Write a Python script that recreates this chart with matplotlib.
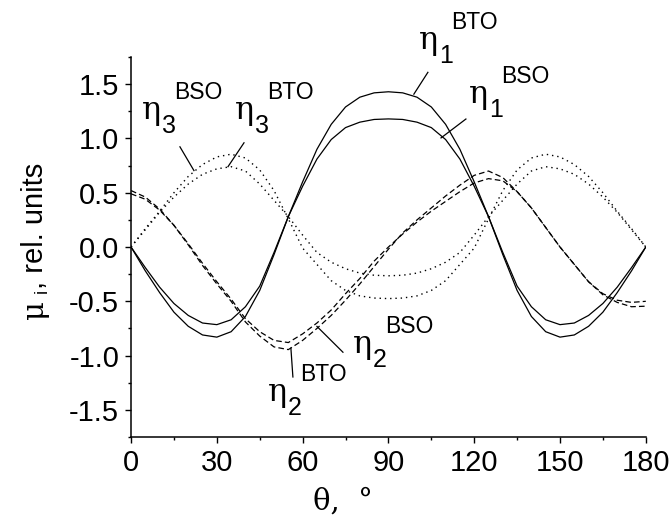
import numpy as np
import matplotlib
matplotlib.use('Agg')
import matplotlib.pyplot as plt
from matplotlib.ticker import MultipleLocator, FormatStrFormatter
from matplotlib.transforms import offset_copy

plt.rcParams['font.family'] = ['Liberation Sans', 'DejaVu Sans']
plt.rcParams['axes.unicode_minus'] = False

# angle grid, degrees
theta = np.arange(0, 181, 5)

# eta_1 (solid)
eta1_bto = [0.00, -0.22, -0.42, -0.60, -0.73, -0.81, -0.83, -0.78, -0.64, -0.40,
            -0.07, 0.28, 0.60, 0.90, 1.13, 1.29, 1.38, 1.42, 1.43, 1.42,
            1.38, 1.29, 1.13, 0.90, 0.60, 0.28, -0.07, -0.40, -0.64, -0.78,
            -0.83, -0.81, -0.73, -0.60, -0.42, -0.22, 0.00]
eta1_bso = [0.00, -0.19, -0.37, -0.52, -0.63, -0.70, -0.715, -0.67, -0.55, -0.36,
            -0.05, 0.28, 0.56, 0.81, 0.99, 1.10, 1.15, 1.175, 1.18, 1.175,
            1.15, 1.10, 0.99, 0.81, 0.56, 0.28, -0.05, -0.36, -0.55, -0.67,
            -0.715, -0.70, -0.63, -0.52, -0.37, -0.19, 0.00]

# eta_2 (dashed)
eta2_bto = [0.52, 0.46, 0.35, 0.20, 0.02, -0.17, -0.34, -0.50, -0.69, -0.82,
            -0.92, -0.945, -0.86, -0.75, -0.63, -0.49, -0.34, -0.18, -0.02, 0.13,
            0.25, 0.36, 0.47, 0.57, 0.66, 0.70, 0.64, 0.51, 0.36, 0.18,
            0.00, -0.16, -0.32, -0.44, -0.51, -0.55, -0.545]
eta2_bso = [0.49, 0.44, 0.34, 0.20, 0.03, -0.15, -0.32, -0.48, -0.66, -0.78,
            -0.86, -0.88, -0.80, -0.70, -0.58, -0.43, -0.29, -0.13, 0.00, 0.12,
            0.23, 0.33, 0.42, 0.51, 0.59, 0.63, 0.61, 0.51, 0.36, 0.18,
            0.00, -0.16, -0.32, -0.43, -0.49, -0.51, -0.50]

# eta_3 (dotted)
eta3_bto = [0.00, 0.16, 0.32, 0.46, 0.58, 0.67, 0.72, 0.74, 0.70, 0.58,
            0.43, 0.28, 0.11, -0.05, -0.14, -0.20, -0.24, -0.26, -0.265, -0.26,
            -0.24, -0.20, -0.14, -0.05, 0.11, 0.28, 0.43, 0.58, 0.70, 0.74,
            0.72, 0.67, 0.58, 0.46, 0.32, 0.16, 0.00]
eta3_bso = [0.00, 0.17, 0.33, 0.50, 0.65, 0.76, 0.83, 0.855, 0.82, 0.71,
            0.52, 0.26, -0.01, -0.16, -0.31, -0.40, -0.45, -0.47, -0.475, -0.47,
            -0.45, -0.40, -0.31, -0.16, -0.01, 0.26, 0.52, 0.71, 0.82, 0.855,
            0.83, 0.76, 0.65, 0.50, 0.33, 0.17, 0.00]

fig = plt.figure(figsize=(6.72, 5.17), dpi=100)
ax = fig.add_axes([0.195, 0.1547, 0.766, 0.735])

solid = dict(color='black', lw=0.9, ls='-')
dashed = dict(color='black', lw=0.9, ls=(0, (4.5, 2.5)))
dotted = dict(color='black', lw=1.0, ls=(0, (1, 2.8)))

ax.plot(theta, eta1_bto, **solid)
ax.plot(theta, eta1_bso, **solid)
ax.plot(theta, eta2_bto, **dashed)
ax.plot(theta, eta2_bso, **dashed)
ax.plot(theta, eta3_bto, **dotted)
ax.plot(theta, eta3_bso, **dotted)

ax.set_xlim(0, 180)
ax.set_ylim(-1.75, 1.75)
ax.xaxis.set_major_locator(MultipleLocator(30))
ax.xaxis.set_minor_locator(MultipleLocator(15))
ax.yaxis.set_major_locator(MultipleLocator(0.5))
ax.yaxis.set_minor_locator(MultipleLocator(0.25))
ax.yaxis.set_major_formatter(FormatStrFormatter('%.1f'))

for s in ['top', 'right']:
    ax.spines[s].set_visible(False)
for s in ['left', 'bottom']:
    ax.spines[s].set_linewidth(1.1)
ax.tick_params(which='major', direction='out', length=4.5, width=1.0,
               labelsize=21, pad=4)
ax.tick_params(which='minor', direction='out', length=2.5, width=1.0)


def eta_label(x, y, sub, sup):
    # eta with a subscript index and a superscript crystal name
    ax.text(x, y, 'η', family=['DejaVu Serif'], fontsize=23,
            ha='left', va='baseline', clip_on=False)
    t_sub = offset_copy(ax.transData, fig=fig, x=20, y=-14, units='dots')
    ax.text(x, y, sub, transform=t_sub, fontsize=18,
            ha='left', va='baseline', clip_on=False)
    t_sup = offset_copy(ax.transData, fig=fig, x=32, y=20, units='dots')
    ax.text(x, y, sup, transform=t_sup, fontsize=16.5,
            ha='left', va='baseline', clip_on=False)


eta_label(3.8, 1.18, '3', 'BSO')
eta_label(36.4, 1.18, '3', 'BTO')
eta_label(100.7, 1.82, '1', 'BTO')
eta_label(118.1, 1.325, '1', 'BSO')
eta_label(47.9, -1.417, '2', 'BTO')
eta_label(77.6, -0.978, '2', 'BSO')

# pointer strokes from labels to curves
pointers = [((17.1, 22.0), (0.923, 0.704)),
            ((39.5, 33.9), (0.96, 0.74)),
            ((103.8, 98.9), (1.609, 1.408)),
            ((117.1, 108.4), (1.179, 1.005)),
            ((56.6, 55.9), (-1.197, -0.932)),
            ((74.1, 65.0), (-0.969, -0.731))]
for xs, ys in pointers:
    ax.plot(xs, ys, color='black', lw=0.9, clip_on=False)

# axis titles
fig.text(343 / 672, 1 - 502 / 517, 'θ,  °', family=['DejaVu Serif'],
         fontsize=21, ha='center', va='center')
fig.text(35 / 672, 1 - 310 / 517, 'μ', family=['DejaVu Serif'], fontsize=21,
         rotation=90, ha='center', va='center')
fig.text(42 / 672, 1 - 291 / 517, 'i', fontsize=13,
         rotation=90, ha='center', va='center')
fig.text(35 / 672, 1 - 226 / 517, ', rel. units', fontsize=21,
         rotation=90, ha='center', va='center')

fig.savefig('out.png', dpi=100)
